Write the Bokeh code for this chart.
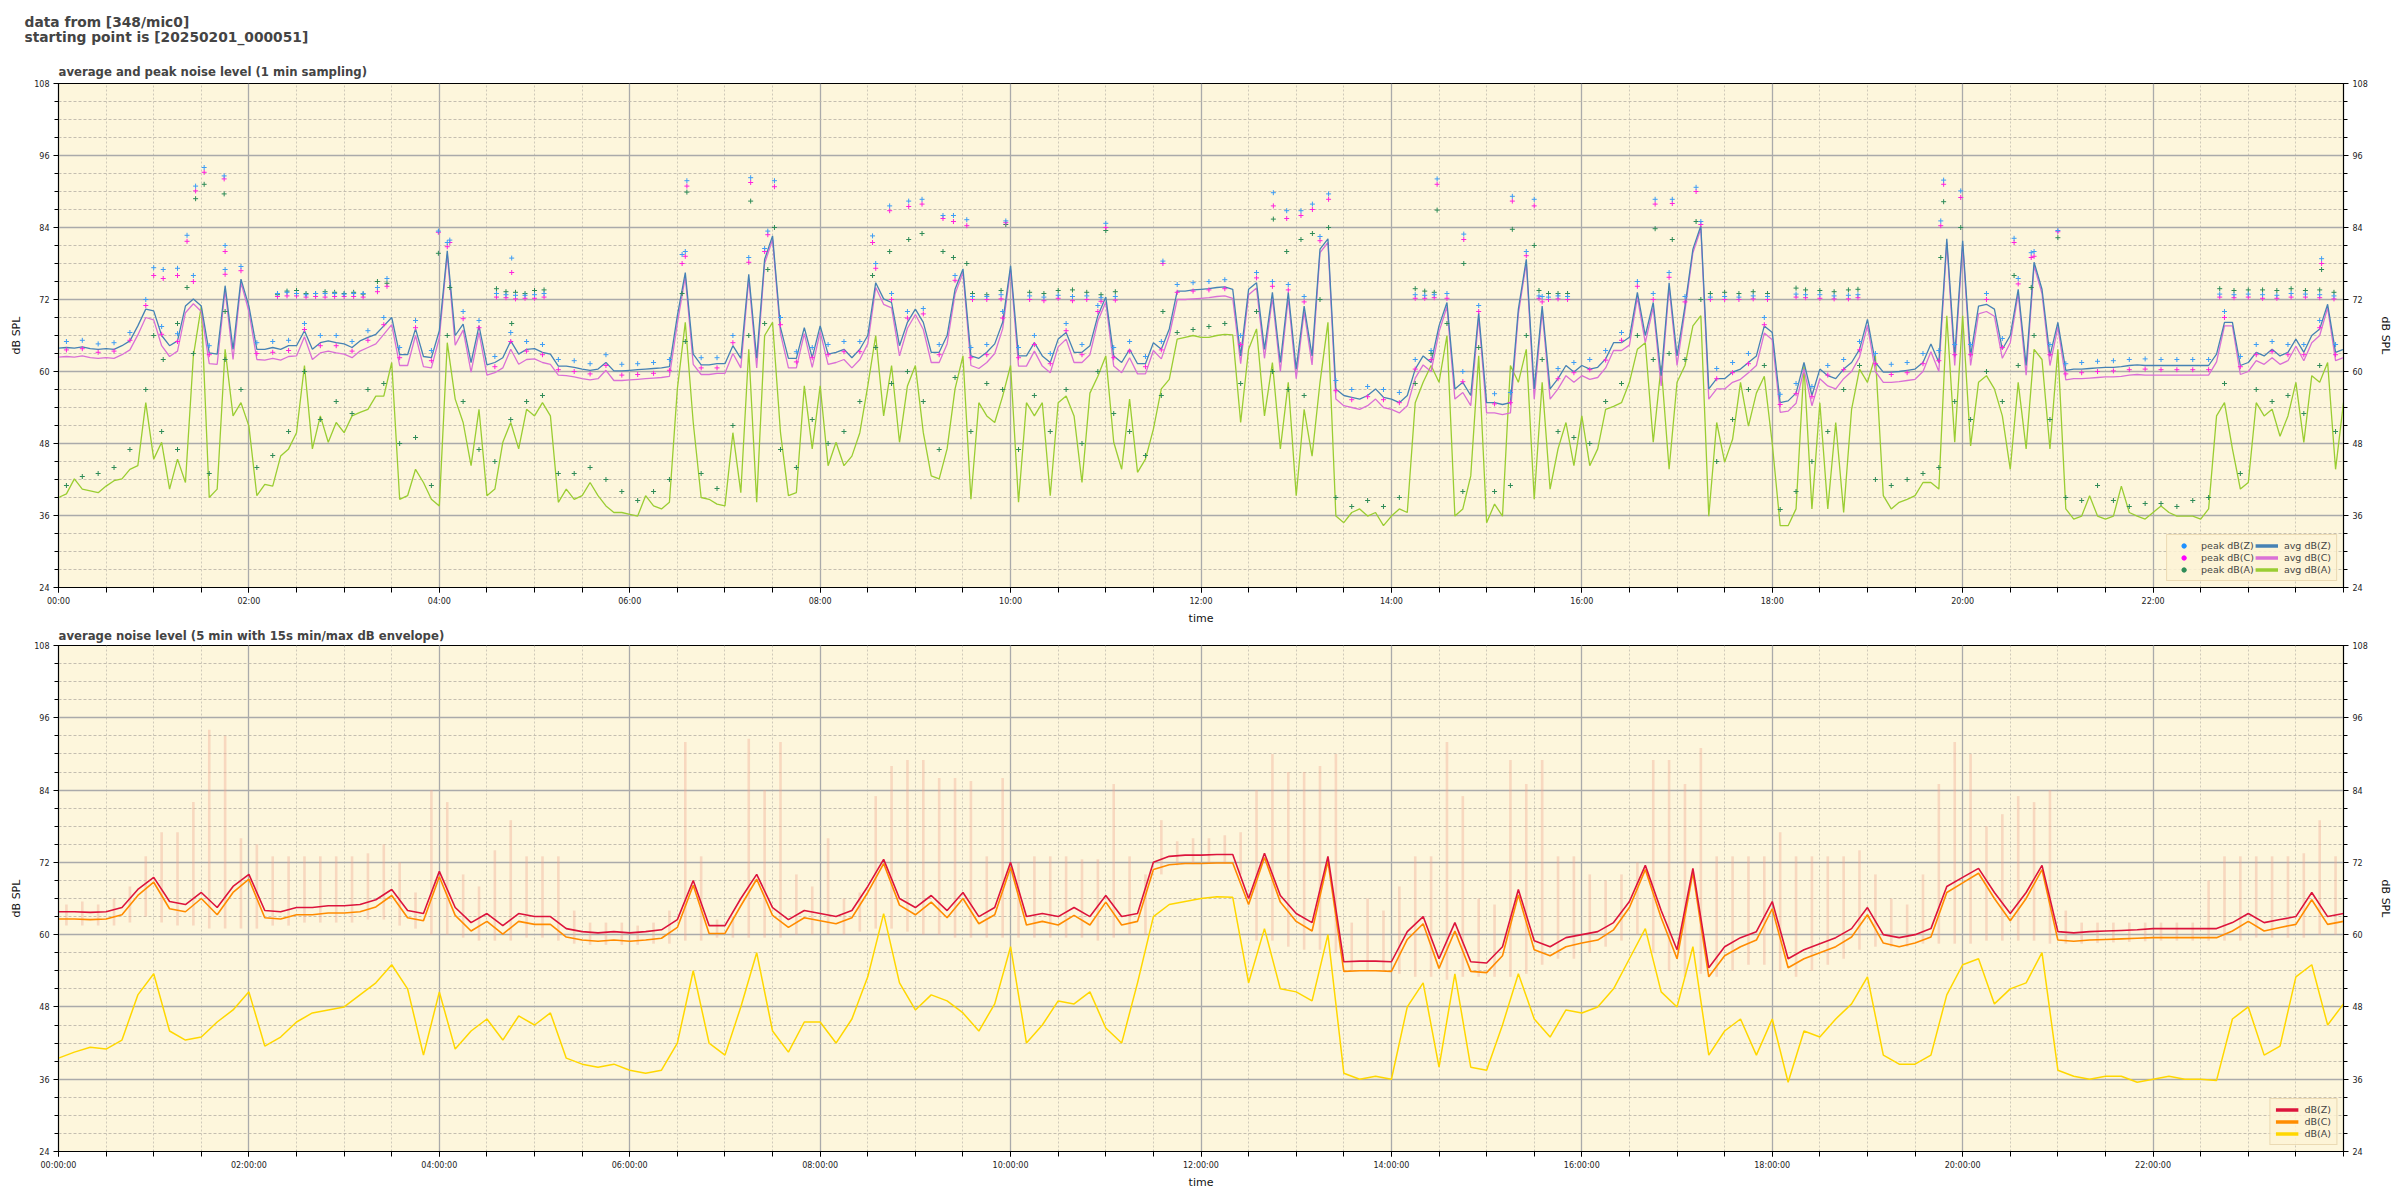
from bokeh.plotting import figure
from bokeh.models import (Range1d, FixedTicker, LinearAxis, Title, Legend, LegendItem)
from bokeh.layouts import column
from bokeh.embed import file_html
from bokeh.resources import INLINE

# ---------------- data (top: 5-min avg levels) ----------------
avg_z = [
    63.9, 64.0, 63.9, 64.1, 63.8, 63.7, 63.8, 63.7, 64.3, 65.1, 67.6, 70.4,
    70.1, 66.0, 64.3, 65.1, 70.9, 72.1, 70.9, 63.1, 62.9, 74.3, 63.7, 75.4,
    70.9, 63.7, 63.7, 64.0, 63.7, 64.3, 64.3, 66.8, 63.7, 64.8, 65.1, 64.8,
    64.6, 64.0, 65.1, 65.7, 66.2, 67.6, 69.0, 62.8, 62.8, 67.1, 62.5, 62.3,
    66.8, 80.1, 66.0, 67.9, 61.5, 67.6, 61.1, 61.5, 62.3, 65.1, 62.9, 63.7,
    63.8, 63.2, 62.9, 60.9, 60.9, 60.7, 60.4, 60.2, 60.4, 61.5, 60.1, 60.1,
    60.2, 60.3, 60.4, 60.5, 60.6, 60.8, 69.3, 76.5, 62.9, 61.1, 61.1, 61.3,
    61.3, 64.3, 62.2, 76.2, 62.2, 78.7, 82.6, 67.3, 62.2, 62.2, 67.3, 62.3,
    67.6, 62.9, 63.2, 63.7, 62.3, 63.7, 66.0, 74.8, 72.1, 71.5, 64.3, 68.2,
    70.4, 68.2, 63.2, 63.2, 66.0, 73.7, 77.1, 62.6, 62.2, 63.2, 64.6, 68.2,
    77.6, 62.6, 62.6, 64.8, 62.6, 61.5, 65.4, 66.5, 63.2, 63.2, 64.3, 69.3,
    72.4, 62.6, 61.5, 63.7, 61.3, 61.3, 64.8, 63.7, 67.1, 73.4, 73.4, 73.6,
    73.7, 73.8, 74.0, 74.1, 73.7, 62.6, 73.7, 74.8, 63.7, 73.2, 61.5, 73.2,
    60.4, 70.9, 62.6, 80.4, 82.1, 57.1, 56.0, 55.7, 55.4, 56.0, 57.1, 55.7,
    55.4, 54.8, 56.0, 60.4, 62.6, 61.5, 67.6, 71.5, 57.1, 58.2, 56.0, 69.8,
    54.8, 54.8, 54.5, 54.8, 70.4, 78.7, 57.1, 70.9, 57.1, 58.8, 61.0, 59.9,
    61.0, 60.4, 60.7, 62.1, 64.8, 64.8, 65.7, 73.2, 66.0, 71.5, 59.3, 74.8,
    62.6, 70.9, 80.4, 84.3, 57.1, 58.8, 58.8, 59.9, 60.4, 61.5, 62.6, 67.6,
    66.5, 54.8, 55.1, 56.4, 61.5, 56.0, 60.4, 59.3, 58.8, 60.4, 61.5, 63.7,
    68.7, 61.5, 59.9, 59.9, 60.0, 60.2, 60.4, 61.5, 64.6, 61.5, 82.1, 62.6,
    81.8, 62.6, 70.9, 71.2, 70.4, 63.7, 66.0, 73.7, 61.0, 78.2, 73.7, 62.6,
    68.2, 60.2, 60.4, 60.4, 60.5, 60.6, 60.7, 60.7, 60.8, 61.0, 61.1, 61.0,
    61.0, 61.0, 61.0, 61.0, 61.0, 61.0, 61.0, 61.0, 62.9, 68.2, 68.2, 61.0,
    61.5, 63.2, 62.6, 63.7, 62.6, 63.2, 65.4, 63.2, 66.0, 67.1, 71.2, 63.2, 63.7,
]
avg_c = [
    62.4, 62.5, 62.4, 62.6, 62.3, 62.2, 62.3, 62.2, 62.8, 63.6, 66.1, 69.0,
    68.6, 64.3, 62.5, 63.4, 69.8, 71.3, 70.0, 61.3, 61.2, 73.6, 62.0, 74.8,
    70.0, 62.0, 61.9, 62.2, 61.9, 62.5, 62.6, 65.8, 62.0, 63.1, 63.4, 63.1,
    62.9, 62.3, 63.4, 64.0, 64.6, 66.2, 67.8, 61.0, 61.0, 66.0, 60.8, 60.6,
    65.6, 79.5, 64.4, 66.9, 59.9, 66.5, 59.4, 59.8, 60.6, 63.7, 61.2, 62.0,
    62.1, 61.5, 61.2, 59.4, 59.3, 59.1, 58.8, 58.6, 58.8, 60.2, 58.5, 58.5,
    58.6, 58.7, 58.8, 58.9, 59.0, 59.2, 68.0, 75.8, 61.2, 59.5, 59.5, 59.7,
    59.7, 63.0, 60.6, 75.5, 60.6, 78.0, 82.0, 66.3, 60.6, 60.6, 66.3, 60.7,
    66.6, 61.2, 61.5, 62.0, 60.6, 62.0, 64.6, 74.0, 71.2, 70.6, 62.6, 67.2,
    69.5, 67.0, 61.5, 61.5, 64.6, 72.9, 76.5, 61.0, 60.5, 61.5, 63.0, 67.1,
    77.0, 60.9, 60.9, 63.4, 60.9, 59.8, 64.1, 65.4, 61.5, 61.5, 62.8, 68.4,
    71.6, 60.9, 59.8, 62.3, 59.6, 59.6, 63.5, 62.1, 66.0, 72.0, 72.0, 72.1,
    72.2, 72.3, 72.5, 72.6, 72.2, 61.3, 72.8, 73.9, 62.2, 72.3, 60.0, 72.3,
    58.8, 70.0, 61.1, 79.8, 81.5, 55.4, 54.3, 54.0, 53.7, 54.3, 55.4, 54.0,
    53.7, 53.1, 54.3, 58.9, 61.1, 60.0, 66.6, 70.8, 55.4, 56.5, 54.3, 69.0,
    53.1, 53.1, 52.8, 53.1, 69.6, 78.1, 55.4, 70.1, 55.4, 57.1, 59.3, 58.2,
    59.3, 58.7, 59.0, 60.6, 63.5, 63.5, 64.4, 72.4, 64.8, 70.7, 57.6, 74.1,
    61.0, 70.1, 79.8, 83.8, 55.4, 57.1, 57.1, 58.2, 58.7, 59.8, 61.0, 66.4,
    65.3, 53.2, 53.4, 54.7, 60.4, 54.3, 58.8, 57.6, 57.1, 58.8, 60.0, 62.4,
    67.7, 60.0, 58.2, 58.2, 58.3, 58.5, 58.7, 60.0, 63.3, 60.0, 81.5, 61.0,
    81.2, 61.0, 69.6, 70.0, 69.2, 62.2, 64.8, 73.0, 59.4, 77.6, 73.0, 61.0,
    67.4, 58.6, 58.8, 58.8, 58.9, 59.0, 59.1, 59.1, 59.2, 59.4, 59.5, 59.4,
    59.4, 59.4, 59.4, 59.4, 59.4, 59.4, 59.4, 59.4, 61.6, 67.6, 67.6, 59.5,
    60.0, 61.8, 61.2, 62.3, 61.2, 61.8, 64.2, 61.8, 64.8, 66.0, 70.6, 61.8, 62.3,
]
avg_a = [
    39.0, 39.6, 42.1, 40.4, 40.1, 39.8, 40.9, 41.8, 42.1, 43.7, 44.3, 54.8,
    45.4, 48.2, 40.4, 45.4, 41.5, 62.6, 70.9, 39.0, 40.4, 63.7, 52.6, 54.8,
    50.9, 39.3, 41.2, 40.9, 45.9, 47.1, 49.8, 61.0, 47.1, 52.6, 48.2, 51.5,
    49.8, 52.6, 53.2, 53.7, 55.9, 55.9, 61.5, 38.7, 39.3, 43.7, 41.5, 38.7,
    37.6, 64.8, 55.4, 51.5, 44.3, 53.7, 39.3, 40.4, 48.2, 51.5, 47.1, 53.7,
    52.6, 54.8, 52.6, 38.2, 40.4, 38.7, 39.3, 41.5, 39.3, 37.6, 36.5, 36.5,
    36.2, 35.9, 39.3, 37.6, 37.1, 38.2, 57.1, 68.2, 51.5, 39.0, 38.7, 37.9,
    37.6, 49.8, 39.8, 63.7, 38.2, 66.0, 68.2, 49.8, 39.3, 39.8, 57.6, 47.1,
    57.6, 44.3, 48.2, 44.3, 45.9, 49.8, 57.6, 66.0, 52.6, 61.0, 48.2, 57.6,
    61.0, 49.8, 42.6, 42.1, 47.1, 57.1, 62.6, 38.7, 54.8, 52.6, 51.5, 55.9,
    61.0, 38.2, 54.8, 52.6, 54.8, 39.3, 54.8, 55.9, 52.6, 41.5, 56.4, 59.2,
    62.6, 48.2, 43.7, 55.4, 43.2, 45.4, 50.4, 57.1, 58.7, 65.4, 65.7, 66.0,
    65.7, 65.7, 66.0, 66.2, 66.1, 51.5, 63.7, 67.1, 52.6, 61.5, 47.1, 58.2,
    39.3, 53.7, 45.9, 58.2, 68.2, 35.9, 34.8, 36.5, 37.1, 35.9, 36.5, 34.3,
    35.9, 37.1, 36.5, 54.8, 58.2, 61.0, 58.2, 66.0, 35.9, 37.1, 42.6, 62.6,
    34.8, 37.9, 35.9, 61.0, 58.2, 63.7, 38.7, 58.2, 40.4, 47.1, 51.5, 44.3,
    52.6, 44.3, 47.1, 53.7, 54.2, 54.8, 58.2, 63.7, 64.8, 48.2, 61.0, 43.7,
    58.2, 61.0, 67.6, 69.3, 35.9, 51.5, 44.9, 48.7, 58.2, 50.9, 56.4, 59.2,
    48.0, 34.3, 34.3, 37.1, 61.0, 37.1, 54.8, 37.1, 51.5, 36.5, 53.7, 60.4,
    58.2, 62.6, 39.3, 37.1, 38.2, 38.7, 39.3, 41.5, 41.5, 40.4, 69.3, 48.2,
    69.3, 47.6, 58.2, 59.3, 57.1, 52.6, 43.7, 58.2, 47.1, 63.7, 62.0, 47.1,
    63.7, 37.1, 35.4, 35.9, 39.3, 35.9, 35.4, 35.9, 40.9, 36.5, 35.9, 35.4,
    36.5, 37.6, 36.5, 35.9, 35.9, 35.9, 35.4, 37.1, 52.6, 54.8, 47.1, 40.4,
    41.5, 54.8, 52.6, 53.7, 49.2, 52.6, 58.2, 48.2, 59.3, 58.2, 61.5, 43.7, 54.8,
]

# peaks, one every 10 min (at :05, :15, ...)
peak_z = [
    65.0, 65.2, 64.6, 64.8, 66.5, 72.0, 67.5, 66.3, 76.0, 64.3, 77.0, 77.5,
    64.8, 65.0, 65.2, 68.0, 66.0, 66.0, 65.0, 66.8, 69.0, 64.0, 68.5, 63.5,
    81.5, 70.0, 68.5, 62.5, 66.5, 65.0, 64.5, 62.0, 61.8, 61.3, 62.8, 61.2,
    61.3, 61.5, 62.0, 80.0, 62.3, 62.3, 66.0, 79.0, 80.5, 69.0, 63.3, 64.0,
    64.5, 65.0, 65.0, 78.0, 73.0, 70.0, 70.5, 64.5, 76.0, 64.0, 64.5, 70.0,
    64.0, 66.0, 63.0, 68.0, 64.5, 71.0, 64.0, 65.0, 62.5, 65.0, 74.5, 74.8,
    75.0, 75.3, 66.0, 76.5, 75.0, 74.5, 72.5, 82.5, 58.5, 57.0, 57.5, 57.0,
    56.5, 62.0, 63.5, 73.0, 60.0, 71.0, 56.3, 56.5, 80.0, 72.5, 60.5, 61.5,
    62.0, 63.5, 66.5, 75.0, 73.0, 76.5, 72.5, 85.0, 60.5, 61.5, 63.0, 69.0,
    56.2, 58.0, 57.5, 61.0, 62.0, 65.0, 63.0, 61.2, 61.5, 63.0, 63.5, 64.5,
    64.5, 73.0, 65.5, 75.5, 80.0, 64.5, 61.3, 61.5, 61.7, 61.8, 62.0, 62.1,
    62.0, 62.0, 62.0, 62.0, 70.0, 62.5, 64.5, 65.0, 64.5, 64.5, 68.5, 64.5,
]
peak_c = [
    63.6, 63.8, 63.2, 63.4, 65.2, 71.0, 66.2, 65.0, 75.0, 62.8, 76.2, 76.8,
    63.0, 63.2, 63.5, 67.0, 64.3, 64.3, 63.4, 65.2, 67.8, 62.3, 67.3, 61.8,
    80.8, 68.8, 67.3, 60.8, 65.0, 63.4, 62.8, 60.3, 60.0, 59.6, 61.0, 59.4,
    59.5, 59.7, 60.2, 79.2, 60.6, 60.6, 64.8, 78.2, 80.0, 67.8, 61.6, 62.3,
    62.8, 63.3, 63.3, 77.2, 72.0, 68.9, 69.6, 62.8, 75.2, 62.3, 62.8, 68.9,
    62.3, 64.5, 61.3, 66.8, 62.8, 70.0, 62.3, 63.4, 60.8, 63.6, 73.2, 73.4,
    73.6, 73.8, 64.5, 75.6, 74.2, 73.6, 71.6, 81.8, 56.8, 55.3, 55.8, 55.3,
    54.8, 60.4, 62.0, 72.2, 58.3, 70.0, 54.6, 54.8, 79.3, 71.6, 58.8, 59.8,
    60.3, 61.9, 65.2, 74.2, 72.0, 75.7, 71.6, 84.5, 58.8, 59.8, 61.3, 67.8,
    54.5, 56.3, 55.8, 59.4, 60.3, 63.6, 61.3, 59.5, 59.8, 61.3, 61.8, 62.8,
    62.8, 72.0, 64.0, 74.6, 79.2, 62.8, 59.6, 59.8, 60.0, 60.1, 60.3, 60.4,
    60.3, 60.3, 60.3, 60.3, 69.0, 60.8, 62.8, 63.3, 62.8, 62.8, 67.3, 62.8,
]
peak_a = [
    41.0, 42.5, 43.0, 44.0, 47.0, 57.0, 50.0, 47.0, 63.0, 43.0, 62.0, 57.0,
    44.0, 46.0, 50.0, 60.0, 52.0, 55.0, 53.0, 57.0, 58.0, 48.0, 49.0, 41.0,
    66.0, 55.0, 47.0, 45.0, 52.0, 55.0, 56.0, 43.0, 43.0, 44.0, 42.0, 40.0,
    38.5, 40.0, 42.0, 65.0, 43.0, 40.5, 51.0, 66.0, 68.0, 47.0, 44.0, 52.0,
    48.0, 50.0, 55.0, 64.0, 58.0, 60.0, 55.0, 47.0, 59.0, 50.0, 58.0, 57.0,
    47.0, 56.0, 50.0, 57.0, 48.0, 60.0, 53.0, 50.0, 46.0, 56.0, 66.5, 67.0,
    67.5, 68.0, 58.0, 70.0, 60.0, 57.0, 56.0, 72.0, 39.0, 37.5, 38.5, 37.5,
    39.0, 58.0, 63.0, 68.0, 40.0, 64.0, 40.0, 41.0, 66.0, 62.0, 50.0, 49.0,
    48.0, 55.0, 58.0, 66.0, 62.0, 63.0, 62.0, 72.0, 45.0, 52.0, 57.0, 61.0,
    37.0, 40.0, 45.0, 50.0, 57.0, 61.0, 42.0, 41.0, 42.0, 43.0, 44.0, 55.0,
    52.0, 60.0, 55.0, 61.0, 66.0, 52.0, 39.0, 38.5, 41.0, 38.5, 37.5, 38.0,
    38.0, 37.5, 38.5, 39.0, 58.0, 43.0, 57.0, 55.0, 56.0, 53.0, 61.0, 50.0,
]

# extra peak samples (plateaus near 73 dB and high outliers), time in hours
extra_t = [2.3, 2.4, 2.5, 2.6, 2.7, 2.8, 2.9, 3.0, 3.1, 3.2, 3.35, 3.45,
           4.6, 4.7, 4.8, 4.9, 5.0, 5.1,
           9.6, 9.75, 9.9, 10.2, 10.35, 10.5, 10.65, 10.8, 10.95, 11.1,
           14.25, 14.35, 14.45, 15.55, 15.65, 15.75, 15.85,
           17.35, 17.5, 17.65, 17.8, 17.95, 18.25, 18.35, 18.5, 18.65, 18.8, 18.9,
           22.7, 22.85, 23.0, 23.15, 23.3, 23.45, 23.6, 23.75, 23.9,
           1.0, 1.1, 1.25, 1.35, 1.44, 1.53, 1.74, 1.75, 3.99, 4.11, 4.76,
           6.6, 6.55, 7.27, 7.45, 7.52, 8.55, 8.73, 8.93, 9.07, 9.29, 9.4, 9.54, 9.95, 11.0, 11.6,
           12.76, 12.9, 13.05, 13.17, 13.34, 14.48, 14.76, 15.27, 15.5, 16.77, 16.95, 17.2,
           19.77, 19.8, 19.98, 20.54, 20.72, 21.0, 23.77]
extra_z = [73.0, 73.2, 73.0, 72.8, 73.0, 73.0, 73.0, 72.9, 73.0, 73.0, 74.0, 75.5,
           73.0, 72.8, 72.7, 72.7, 72.8, 73.0,
           72.5, 72.5, 72.8, 72.6, 72.4, 72.7, 72.5, 72.6, 72.3, 72.5,
           72.8, 72.7, 72.8, 72.6, 72.4, 72.6, 72.5,
           72.4, 72.5, 72.4, 72.6, 72.5, 72.9, 72.8, 72.8, 72.6, 72.7, 72.8,
           72.9, 72.8, 72.9, 72.8, 72.7, 73.0, 72.9, 72.8, 72.6,
           77.3, 77.0, 77.2, 82.7, 90.9, 94.0, 92.6, 81.0, 83.4, 81.9, 78.9,
           91.8, 79.5, 92.3, 83.4, 91.8, 82.6, 87.6, 88.4, 88.7, 86.0, 86.0, 85.3, 85.1, 84.7, 78.4,
           89.8, 86.8, 86.8, 87.9, 89.6, 92.1, 82.9, 89.2, 88.7, 88.7, 88.7, 90.7,
           85.1, 91.9, 90.1, 82.2, 79.8, 83.5, 78.8]
extra_c = [72.5, 72.6, 72.6, 72.4, 72.5, 72.4, 72.5, 72.5, 72.5, 72.4, 73.3, 74.2,
           72.4, 72.3, 72.1, 72.2, 72.2, 72.4,
           72.0, 72.0, 72.1, 72.0, 71.8, 72.2, 71.8, 72.0, 71.7, 71.9,
           72.2, 72.2, 72.3, 72.2, 72.0, 72.1, 72.0,
           72.0, 72.0, 72.0, 72.1, 72.0, 72.4, 72.3, 72.2, 72.1, 72.1, 72.3,
           72.4, 72.3, 72.4, 72.2, 72.2, 72.4, 72.4, 72.3, 72.1,
           76.0, 75.5, 76.0, 81.7, 90.1, 93.2, 92.1, 80.0, 83.2, 81.5, 76.5,
           90.9, 78.0, 91.5, 82.8, 90.8, 81.5, 86.8, 87.5, 87.9, 85.5, 85.0, 84.3, 84.8, 84.0, 78.0,
           87.6, 85.5, 86.0, 87.0, 88.7, 91.2, 82.0, 88.4, 87.6, 87.9, 88.0, 90.0,
           84.3, 91.2, 89.0, 81.5, 79.0, 83.3, 78.0]
extra_a = [72.8, 73.4, 73.5, 73.0, 73.0, 73.3, 73.2, 73.0, 73.2, 72.9, 75.0, 74.7,
           73.8, 73.3, 73.2, 73.0, 73.5, 73.6,
           73.0, 72.8, 73.5, 73.2, 73.0, 73.5, 73.6, 73.2, 72.8, 73.3,
           73.8, 73.4, 73.2, 73.5, 73.0, 73.0, 73.0,
           73.0, 73.2, 73.0, 73.3, 73.0, 73.9, 73.6, 73.5, 73.3, 73.6, 73.7,
           73.8, 73.5, 73.6, 73.6, 73.5, 73.8, 73.5, 73.6, 73.2,
           66.0, 62.0, 68.0, 74.0, 88.8, 91.2, 89.6, 70.0, 79.7, 74.0, 68.0,
           89.9, 73.0, 88.4, 77.0, 84.0, 76.0, 80.0, 82.0, 83.0, 80.0, 79.0, 78.0, 84.5, 83.5, 70.0,
           85.4, 80.0, 82.0, 83.0, 84.0, 86.9, 78.0, 83.7, 81.0, 83.8, 82.0, 85.0,
           79.0, 88.3, 84.0, 76.0, 74.0, 82.3, 77.0]

# ---------------- data (bottom: 5-min average, every 10 min) ----------------
bot_z = [
    63.8, 63.8, 63.7, 63.8, 64.5, 67.5, 69.5, 65.5, 65.0, 67.0, 64.5, 68.0,
    70.0, 64.0, 63.8, 64.5, 64.5, 64.8, 64.8, 65.0, 65.8, 67.5, 64.0, 63.5,
    70.5, 64.5, 62.0, 63.5, 61.5, 63.5, 63.0, 63.0, 61.0, 60.5, 60.3, 60.5,
    60.3, 60.5, 60.8, 62.5, 69.0, 61.5, 61.5, 66.0, 70.0, 64.5, 62.5, 64.0,
    63.5, 63.0, 64.0, 68.0, 72.5, 66.0, 64.5, 66.5, 64.0, 67.0, 63.0, 64.5,
    72.0, 63.0, 63.5, 63.0, 64.5, 63.0, 66.5, 63.0, 63.5, 72.0, 73.0, 73.2,
    73.2, 73.3, 73.3, 66.0, 73.5, 66.5, 63.5, 62.0, 73.0, 55.5, 55.6, 55.6,
    55.5, 60.5, 63.0, 56.0, 62.0, 55.5, 55.3, 58.0, 67.5, 59.0, 58.0, 59.5,
    60.0, 60.5, 62.0, 65.5, 71.5, 64.0, 57.5, 71.0, 54.5, 58.0, 59.5, 60.5,
    65.5, 56.0, 57.5, 58.5, 59.5, 61.0, 64.5, 60.0, 59.5, 60.0, 61.0, 68.0,
    69.5, 71.0, 67.0, 63.5, 67.0, 71.5, 60.5, 60.3, 60.5, 60.6, 60.7, 60.8,
    61.0, 61.0, 61.0, 61.0, 61.0, 62.0, 63.5, 62.0, 62.5, 63.0, 67.0, 63.0, 63.5,
]
bot_c = [
    62.6, 62.6, 62.5, 62.6, 63.3, 66.5, 68.7, 64.3, 63.8, 66.0, 63.3, 67.0,
    69.2, 62.8, 62.6, 63.3, 63.3, 63.6, 63.6, 63.8, 64.6, 66.5, 62.8, 62.3,
    69.6, 63.2, 60.6, 62.2, 60.1, 62.2, 61.7, 61.7, 59.6, 59.1, 58.9, 59.1,
    58.9, 59.1, 59.4, 61.2, 68.2, 60.2, 60.2, 64.8, 69.2, 63.2, 61.2, 62.8,
    62.3, 61.8, 62.8, 67.0, 71.8, 64.9, 63.3, 65.4, 62.8, 66.0, 61.8, 63.3,
    71.2, 61.6, 62.2, 61.6, 63.2, 61.6, 65.4, 61.6, 62.2, 70.8, 71.6, 71.8,
    71.8, 71.9, 71.9, 65.0, 72.8, 65.4, 62.2, 60.6, 72.2, 53.9, 54.0, 54.0,
    53.9, 59.2, 61.8, 54.4, 60.6, 53.9, 53.7, 56.5, 66.6, 57.5, 56.5, 58.0,
    58.6, 59.1, 60.8, 64.5, 70.8, 62.8, 56.0, 70.3, 53.0, 56.5, 58.0, 59.1,
    64.3, 54.5, 56.0, 57.0, 58.0, 59.6, 63.3, 58.6, 58.0, 58.6, 59.6, 67.0,
    68.6, 70.2, 66.0, 62.3, 66.0, 70.8, 59.1, 58.9, 59.1, 59.2, 59.3, 59.4,
    59.5, 59.5, 59.5, 59.5, 59.5, 60.6, 62.2, 60.6, 61.2, 61.7, 65.8, 61.7, 62.2,
]
bot_a = [
    39.5, 40.5, 41.3, 41.0, 42.5, 50.0, 53.5, 44.0, 42.5, 43.0, 45.5, 47.5,
    50.5, 41.5, 43.0, 45.5, 47.0, 47.5, 48.0, 50.0, 52.0, 55.0, 51.0, 40.0,
    50.5, 41.0, 44.0, 46.0, 42.5, 46.5, 45.0, 47.0, 39.5, 38.5, 38.0, 38.5,
    37.5, 37.0, 37.5, 42.0, 54.0, 42.0, 40.0, 48.0, 57.0, 44.0, 40.5, 45.5,
    45.5, 42.0, 46.0, 53.0, 63.5, 52.0, 47.5, 50.0, 49.0, 47.0, 44.0, 48.5,
    58.0, 42.0, 45.0, 49.0, 48.5, 50.5, 44.5, 42.0, 52.0, 63.0, 65.0, 65.5,
    66.0, 66.3, 66.2, 52.0, 61.0, 51.0, 50.5, 49.0, 60.0, 37.0, 36.0, 36.5,
    36.0, 48.0, 52.0, 38.0, 53.5, 38.0, 37.5, 45.0, 53.5, 46.0, 43.0, 47.5,
    47.0, 48.0, 51.0, 56.0, 61.0, 50.5, 48.0, 58.0, 40.0, 44.0, 46.0, 40.0,
    46.0, 35.5, 44.0, 43.0, 46.0, 48.5, 53.0, 40.0, 38.5, 38.5, 40.0, 50.0,
    55.0, 56.0, 48.5, 51.0, 52.0, 57.0, 37.5, 36.5, 36.0, 36.5, 36.5, 35.5,
    36.0, 36.5, 36.0, 36.0, 35.8, 46.0, 48.0, 40.0, 41.5, 53.0, 55.0, 45.0, 48.5,
]
# 15 s min/max envelope, one value every 10 min (at :05, :15, ...)
env_hi = [
    65.0, 65.5, 65.0, 66.0, 68.0, 73.0, 77.0, 77.0, 82.0, 94.0, 93.0, 76.0,
    75.0, 73.0, 73.0, 73.0, 73.0, 73.0, 73.0, 73.5, 75.0, 72.0, 67.0, 84.0,
    82.0, 70.0, 68.0, 74.0, 79.0, 73.0, 73.0, 73.0, 64.0, 62.0, 62.0, 62.0,
    61.5, 62.0, 64.0, 92.0, 73.0, 62.5, 63.0, 92.5, 84.0, 92.0, 70.0, 68.0,
    76.0, 66.0, 67.0, 83.0, 88.0, 89.0, 89.0, 86.0, 86.0, 85.5, 73.0, 86.0,
    72.0, 73.0, 73.0, 73.0, 72.5, 72.5, 85.0, 73.0, 70.0, 79.0, 75.5, 76.0,
    76.0, 76.5, 77.0, 84.0, 90.0, 87.0, 87.0, 88.0, 90.0, 62.0, 66.0, 64.0,
    68.0, 73.0, 73.0, 92.0, 83.0, 66.0, 65.0, 89.0, 85.0, 89.0, 73.0, 73.0,
    70.0, 69.0, 70.0, 72.0, 89.0, 89.0, 85.0, 91.0, 73.0, 73.0, 73.0, 73.0,
    77.0, 73.0, 73.0, 73.0, 73.0, 74.0, 70.0, 66.0, 65.0, 70.0, 85.0, 92.0,
    90.0, 78.0, 80.0, 83.0, 82.0, 84.0, 64.0, 62.0, 62.0, 62.0, 62.0, 62.0,
    62.0, 62.0, 62.0, 69.0, 73.0, 73.0, 73.0, 73.0, 73.0, 73.5, 79.0, 73.0,
]
env_lo = [
    61.5, 61.5, 61.5, 61.5, 62.0, 63.0, 62.0, 61.5, 61.5, 61.0, 61.0, 61.0,
    61.0, 61.5, 61.5, 62.0, 62.0, 62.0, 62.0, 62.5, 62.5, 61.5, 61.0, 60.0,
    60.0, 59.5, 59.0, 59.0, 59.0, 59.5, 59.5, 59.0, 58.5, 58.3, 58.3, 58.3,
    58.3, 58.5, 58.5, 59.0, 59.0, 59.5, 59.5, 59.5, 59.5, 59.5, 60.0, 60.0,
    60.0, 60.0, 60.5, 61.0, 61.0, 60.5, 60.0, 60.0, 59.5, 59.5, 59.5, 59.5,
    59.5, 59.5, 59.5, 59.5, 59.5, 59.0, 59.5, 60.0, 60.0, 70.0, 71.5, 71.7,
    71.8, 71.8, 70.0, 59.0, 59.0, 58.0, 57.5, 57.5, 57.0, 54.0, 54.0, 54.0,
    53.5, 53.0, 53.0, 52.5, 53.0, 53.0, 53.0, 53.0, 53.5, 55.0, 56.0, 56.0,
    57.0, 58.0, 59.0, 60.0, 57.0, 54.0, 53.0, 53.5, 53.0, 54.0, 55.0, 55.0,
    54.0, 53.0, 54.0, 55.0, 56.0, 57.5, 58.0, 58.0, 58.0, 58.5, 58.5, 58.5,
    58.5, 59.0, 59.0, 59.0, 59.0, 58.5, 58.5, 58.5, 58.6, 58.7, 58.8, 58.9,
    59.0, 59.0, 59.0, 59.0, 59.0, 59.0, 59.5, 59.5, 59.5, 59.5, 60.0, 60.0,
]

hour_ticks = [0, 2, 4, 6, 8, 10, 12, 14, 16, 18, 20, 22]
top_tick_labels = ["00:00", "02:00", "04:00", "06:00", "08:00", "10:00",
                   "12:00", "14:00", "16:00", "18:00", "20:00", "22:00"]
bot_tick_labels = ["00:00:00", "02:00:00", "04:00:00", "06:00:00", "08:00:00", "10:00:00",
                   "12:00:00", "14:00:00", "16:00:00", "18:00:00", "20:00:00", "22:00:00"]
db_ticks = [24, 36, 48, 60, 72, 84, 96, 108]

# time positions (hours)
t5 = [i * 5 / 60 for i in range(len(avg_z))]
tc5 = [i * 5 / 60 for i in range(len(avg_c))]
ta5 = [i * 5 / 60 for i in range(len(avg_a))]
tpk = [(2 * i + 1) * 5 / 60 for i in range(len(peak_z))]
tpc = [(2 * i + 1) * 5 / 60 for i in range(len(peak_c))]
tpa = [(2 * i + 1) * 5 / 60 for i in range(len(peak_a))]
tb = [i * 10 / 60 for i in range(len(bot_z))]
tbc = [i * 10 / 60 for i in range(len(bot_c))]
tba = [i * 10 / 60 for i in range(len(bot_a))]
tenv = [(2 * i + 1) * 5 / 60 for i in range(len(env_hi))]

BG = "#fdf6dc"
FONT = "DejaVu Sans"
W = 2400


def make_fig(height, top, bottom, labels):
    p = figure(width=W, height=height, x_range=Range1d(0, 24), y_range=Range1d(24, 108),
               output_backend="svg", toolbar_location=None, title=None,
               min_border_left=58, min_border_right=57, min_border_top=top,
               min_border_bottom=bottom, background_fill_color=BG,
               border_fill_color="white")
    p.outline_line_color = "black"
    p.outline_line_width = 1.2
    xt = FixedTicker(ticks=hour_ticks, minor_ticks=[i * 0.5 for i in range(49)])
    yt = FixedTicker(ticks=db_ticks, minor_ticks=list(range(24, 109, 3)))
    p.xaxis.ticker = xt
    p.yaxis.ticker = yt
    p.xgrid.ticker = xt
    p.ygrid.ticker = yt
    p.xaxis.major_label_overrides = {h: s for h, s in zip(hour_ticks, labels)}
    p.xaxis.axis_label = "time"
    p.yaxis.axis_label = "dB SPL"
    ry = LinearAxis(ticker=yt, axis_label="dB SPL")
    p.add_layout(ry, "right")
    for ax in [p.xaxis[0], p.yaxis[0], ry]:
        ax.major_label_text_font = FONT
        ax.major_label_text_font_size = "8px"
        ax.major_label_text_color = "#222222"
        ax.axis_label_text_font = FONT
        ax.axis_label_text_font_size = "11px"
        ax.axis_label_text_font_style = "normal"
        ax.axis_label_text_color = "#111111"
        ax.axis_line_color = "black"
        ax.major_tick_line_color = "black"
        ax.minor_tick_line_color = "black"
        ax.major_tick_in = 0
        ax.minor_tick_in = 0
        ax.major_tick_out = 5
        ax.minor_tick_out = 4
        ax.major_label_standoff = 4
        ax.axis_label_standoff = 8
    p.xaxis.minor_tick_out = 5
    p.xaxis.major_label_standoff = 4
    p.xaxis.axis_label_standoff = 3
    p.xgrid.grid_line_color = "#aaaaaa"
    p.xgrid.grid_line_width = 1.3
    p.xgrid.minor_grid_line_color = "#c9c4b4"
    p.xgrid.minor_grid_line_dash = "2 2"
    p.xgrid.minor_grid_line_width = 0.9
    p.ygrid.grid_line_color = "#aaaaaa"
    p.ygrid.grid_line_width = 1.3
    p.ygrid.minor_grid_line_color = "#bdb8aa"
    p.ygrid.minor_grid_line_dash = "3 2"
    p.ygrid.minor_grid_line_width = 0.9
    return p


# ---------------- top figure ----------------
p1 = make_fig(628, 83, 41, top_tick_labels)

p1.line(ta5, avg_a, line_color="#9acd32", line_width=1.3)
p1.line(tc5, avg_c, line_color="#da70d6", line_width=1.3)
p1.line(t5, avg_z, line_color="#4682b4", line_width=1.3)
p1.scatter(tpa, peak_a, marker="cross", size=5, line_color="#2e8b57", line_width=1)
p1.scatter(extra_t, extra_a, marker="cross", size=5, line_color="#2e8b57", line_width=1)
p1.scatter(tpc, peak_c, marker="cross", size=5, line_color="#ff22dd", line_width=1)
p1.scatter(extra_t, extra_c, marker="cross", size=5, line_color="#ff22dd", line_width=1)
p1.scatter(tpk, peak_z, marker="cross", size=5, line_color="#3d9df5", line_width=1)
p1.scatter(extra_t, extra_z, marker="cross", size=5, line_color="#3d9df5", line_width=1)

# legend proxies (single point placed outside the visible range)
OX, OY = [-10], [0]
g_pz = p1.scatter(OX, OY, marker="circle", size=6, fill_color="#1e90ff", line_color="#1e90ff")
g_pc = p1.scatter(OX, OY, marker="circle", size=6, fill_color="#ff00ff", line_color="#ff00ff")
g_pa = p1.scatter(OX, OY, marker="circle", size=6, fill_color="#2e8b57", line_color="#2e8b57")
g_az = p1.line(OX * 2, OY * 2, line_color="#4682b4", line_width=3.5)
g_ac = p1.line(OX * 2, OY * 2, line_color="#da70d6", line_width=3.5)
g_aa = p1.line(OX * 2, OY * 2, line_color="#9acd32", line_width=3.5)
leg1 = Legend(items=[
    LegendItem(label="peak dB(Z)", renderers=[g_pz]),
    LegendItem(label="peak dB(C)", renderers=[g_pc]),
    LegendItem(label="peak dB(A)", renderers=[g_pa]),
    LegendItem(label="avg dB(Z)", renderers=[g_az]),
    LegendItem(label="avg dB(C)", renderers=[g_ac]),
    LegendItem(label="avg dB(A)", renderers=[g_aa]),
], location="bottom_right", ncols=2)
p1.add_layout(leg1)

p1.add_layout(Title(text="average and peak noise level (1 min sampling)", align="left",
                    text_font=FONT, text_font_size="11.7px", text_font_style="bold",
                    standoff=10), "above")
p1.add_layout(Title(text="data from [348/mic0]\nstarting point is [20250201_000051]",
                    align="left", offset=-34, text_font=FONT, text_font_size="13.8px",
                    text_font_style="bold", text_line_height=0.95, standoff=24), "above")

# ---------------- bottom figure ----------------
p2 = make_fig(564, 17, 41, bot_tick_labels)
p2.segment(x0=tenv, y0=env_lo, x1=tenv, y1=env_hi, line_color="#efa890", line_alpha=0.38,
           line_width=2.6)
p2.line(tba, bot_a, line_color="#ffd700", line_width=1.5)
p2.line(tbc, bot_c, line_color="#ff8c00", line_width=1.6)
p2.line(tb, bot_z, line_color="#dc143c", line_width=1.6)
g_bz = p2.line(OX * 2, OY * 2, line_color="#dc143c", line_width=3.5)
g_bc = p2.line(OX * 2, OY * 2, line_color="#ff8c00", line_width=3.5)
g_ba = p2.line(OX * 2, OY * 2, line_color="#ffd700", line_width=3.5)
leg2 = Legend(items=[
    LegendItem(label="dB(Z)", renderers=[g_bz]),
    LegendItem(label="dB(C)", renderers=[g_bc]),
    LegendItem(label="dB(A)", renderers=[g_ba]),
], location="bottom_right")
p2.add_layout(leg2)
p2.add_layout(Title(text="average noise level (5 min with 15s min/max dB envelope)",
                    align="left", vertical_align="top", text_font=FONT,
                    text_font_size="11.7px", text_font_style="bold", standoff=1), "above")

for lg in (leg1, leg2):
    lg.label_text_font = FONT
    lg.label_text_font_size = "9.5px"
    lg.label_height = 11
    lg.glyph_height = 11
    lg.glyph_width = 23
    lg.label_standoff = 6
    lg.spacing = 1
    lg.padding = 5
    lg.margin = 6
    lg.border_line_color = "#d9bf8f"
    lg.border_line_width = 1.2
    lg.background_fill_color = "#fdf3d6"
    lg.background_fill_alpha = 0.85

layout = column(p1, p2, spacing=0)
open("out.html", "w").write(file_html(layout, INLINE))
